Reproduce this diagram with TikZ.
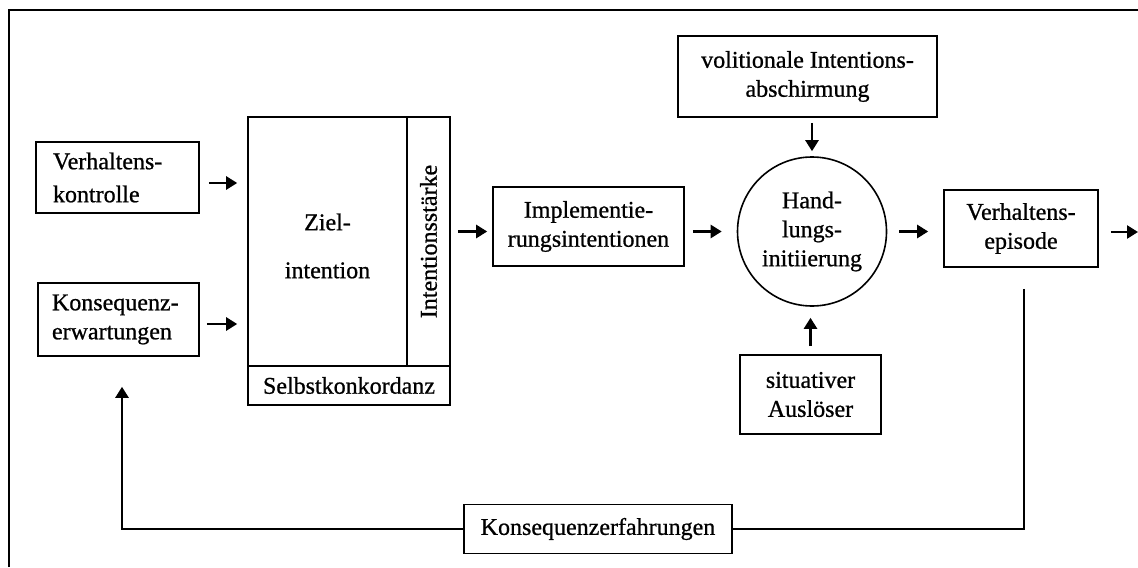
\documentclass[tikz,border=0pt]{standalone}
\usepackage{fontspec}
\setmainfont{Liberation Serif}[FakeBold=0.8]
\usetikzlibrary{arrows.meta,calc}
\begin{document}
\begin{tikzpicture}[x=0.5pt,y=-0.5pt,
  every node/.style={font=\fontsize{12pt}{14.5pt}\selectfont},
  box/.style={draw, line width=0.8pt, align=center, inner sep=0pt},
  plain/.style={align=center, inner sep=0pt},
  arr/.style={-{Triangle[length=5.5pt,width=6.5pt]}, line width=1.25pt},
  fb/.style={line width=1.25pt},
  frame/.style={line width=1.4pt}]
\useasboundingbox (0,0) rectangle (1138,567);

% outer frame
\draw[frame] (9,567) -- (9,10) -- (1138,10);

% inputs on the left
\node[box, align=left, minimum width=81.5pt, minimum height=35.5pt,
      text width=64.5pt, inner xsep=8.5pt] (vk) at (117.5,177.5)
      {Verhaltens-\\[2pt]kontrolle};
\node[box, align=left, minimum width=80.5pt, minimum height=36.5pt,
      text width=66.5pt, inner xsep=7pt] (ke) at (118.5,319.5)
      {Konsequenz-\\erwartungen};

% goal intention block with its parts
\node[box, minimum width=101pt, minimum height=144pt] (zb) at (349,261) {};
\draw[line width=0.8pt] (zb.west |- 0,366) -- (zb.east |- 0,366);
\draw[line width=0.8pt] (407,0 |- zb.north) -- (407,366);
\node[plain] (ziel) at (327.5,246) {Ziel-\\[9.5pt]intention};
\node[plain, rotate=90] (staerke) at (428.5,241.5) {Intentionsstärke};
\node[plain] (sk) at (349,385.5) {Selbstkonkordanz};

% implementation chain
\node[box, minimum width=95.5pt, minimum height=39.5pt] (impl) at (588.5,226.5)
      {Implementie-\\rungsintentionen};
\node[draw, circle, line width=0.8pt, minimum size=74.5pt, inner sep=0pt,
      align=center] (circ) at (812,231.5) {Hand-\\lungs-\\initiierung};
\node[box, minimum width=129.5pt, minimum height=40.5pt] (vol) at (807.5,76.5)
      {volitionale Intentions-\\abschirmung};
\node[box, minimum width=70.5pt, minimum height=39.5pt] (sit) at (810.5,394.5)
      {situativer\\Auslöser};
\node[box, minimum width=77pt, minimum height=38.5pt] (ep) at (1021,228.5)
      {Verhaltens-\\episode};
\node[box, minimum width=134pt, minimum height=24.5pt] (kf) at (598,529)
      {Konsequenzerfahrungen};
\coordinate (out) at (1138,232);

% forward arrows
\draw[arr, shorten <=4.5pt, shorten >=5pt]
  ([yshift=-2.75pt]vk.east) -- ([yshift=-2.75pt]vk.east -| zb.west);
\draw[arr, shorten <=3.5pt, shorten >=5pt]
  ([yshift=-2.25pt]ke.east) -- ([yshift=-2.25pt]ke.east -| zb.west);
\draw[arr, shorten <=3.5pt, shorten >=2.5pt]
  (zb.east |- circ.center) -- (impl.west |- circ.center);
\draw[arr, shorten <=4pt, shorten >=7.5pt]
  (impl.east |- circ.center) -- (circ.west);
\draw[arr, shorten <=6pt, shorten >=7.5pt]
  (circ.east) -- (circ.east -| ep.west);
\draw[arr, shorten <=6pt]
  (ep.east |- out) -- (out);
\draw[arr, shorten <=2.5pt, shorten >=2.5pt]
  (circ.north |- vol.south) -- (circ.north);
\draw[arr, shorten <=4pt, shorten >=5.5pt]
  (sit.north) -- (sit.north |- circ.south);

% feedback loop
\draw[fb, shorten <=10.5pt] ([xshift=1.5pt]ep.south) |- (kf.east);
\draw[arr, shorten >=15pt] (kf.west) -| ([xshift=1.75pt]ke.south);
\end{tikzpicture}
\end{document}
